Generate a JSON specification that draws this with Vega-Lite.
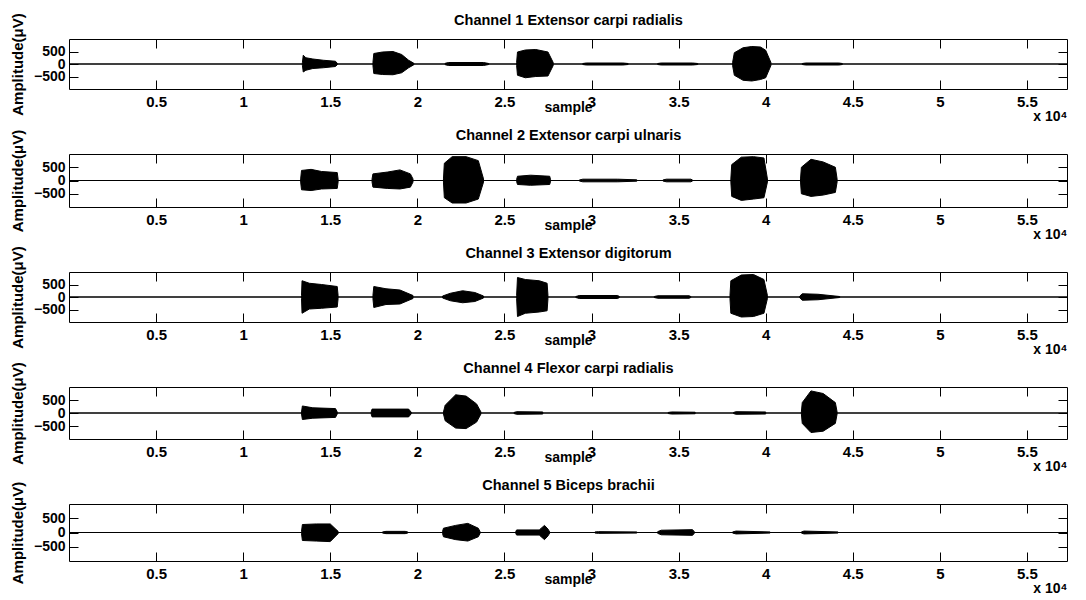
{
  "$schema": "https://vega.github.io/schema/vega-lite/v6.json",
  "background": "white",
  "padding": {"left": 9, "top": 12, "right": 10, "bottom": 5},
  "bounds": "flush",
  "spacing": 65,
  "config": {
    "font": "Liberation Sans",
    "view": {"stroke": "black", "strokeWidth": 1},
    "axis": {"grid": false, "domain": false, "tickColor": "black", "labelColor": "black", "titleColor": "black", "labelFont": "Liberation Sans", "titleFont": "Liberation Sans", "labelOverlap": false}
  },
  "datasets": {
    "env": [
      {"ch": 1, "b": 1, "x": 13400, "lo": -50, "hi": 50}, {"ch": 1, "b": 1, "x": 13450, "lo": -320, "hi": 350}, {"ch": 1, "b": 1, "x": 13600, "lo": -250, "hi": 250}, {"ch": 1, "b": 1, "x": 14000, "lo": -180, "hi": 200}, {"ch": 1, "b": 1, "x": 14600, "lo": -150, "hi": 150}, {"ch": 1, "b": 1, "x": 15300, "lo": -100, "hi": 110}, {"ch": 1, "b": 1, "x": 15400, "lo": -30, "hi": 30},
      {"ch": 1, "b": 2, "x": 17450, "lo": -60, "hi": 60}, {"ch": 1, "b": 2, "x": 17500, "lo": -380, "hi": 420}, {"ch": 1, "b": 2, "x": 18000, "lo": -420, "hi": 480}, {"ch": 1, "b": 2, "x": 18600, "lo": -430, "hi": 500}, {"ch": 1, "b": 2, "x": 19100, "lo": -350, "hi": 380}, {"ch": 1, "b": 2, "x": 19500, "lo": -150, "hi": 150}, {"ch": 1, "b": 2, "x": 19800, "lo": -30, "hi": 30},
      {"ch": 1, "b": 3, "x": 21600, "lo": -30, "hi": 30}, {"ch": 1, "b": 3, "x": 21800, "lo": -60, "hi": 60}, {"ch": 1, "b": 3, "x": 23800, "lo": -60, "hi": 60}, {"ch": 1, "b": 3, "x": 24100, "lo": -20, "hi": 20},
      {"ch": 1, "b": 4, "x": 25700, "lo": -60, "hi": 60}, {"ch": 1, "b": 4, "x": 25750, "lo": -450, "hi": 480}, {"ch": 1, "b": 4, "x": 26200, "lo": -550, "hi": 560}, {"ch": 1, "b": 4, "x": 26800, "lo": -500, "hi": 580}, {"ch": 1, "b": 4, "x": 27500, "lo": -480, "hi": 480}, {"ch": 1, "b": 4, "x": 27800, "lo": -60, "hi": 60},
      {"ch": 1, "b": 5, "x": 29500, "lo": -20, "hi": 20}, {"ch": 1, "b": 5, "x": 29700, "lo": -40, "hi": 40}, {"ch": 1, "b": 5, "x": 31800, "lo": -40, "hi": 40}, {"ch": 1, "b": 5, "x": 32100, "lo": -20, "hi": 20},
      {"ch": 1, "b": 6, "x": 33800, "lo": -20, "hi": 20}, {"ch": 1, "b": 6, "x": 34000, "lo": -40, "hi": 40}, {"ch": 1, "b": 6, "x": 35800, "lo": -40, "hi": 40}, {"ch": 1, "b": 6, "x": 36100, "lo": -20, "hi": 20},
      {"ch": 1, "b": 7, "x": 38100, "lo": -60, "hi": 60}, {"ch": 1, "b": 7, "x": 38200, "lo": -450, "hi": 450}, {"ch": 1, "b": 7, "x": 38700, "lo": -650, "hi": 650}, {"ch": 1, "b": 7, "x": 39200, "lo": -680, "hi": 700}, {"ch": 1, "b": 7, "x": 39700, "lo": -620, "hi": 680}, {"ch": 1, "b": 7, "x": 40000, "lo": -550, "hi": 550}, {"ch": 1, "b": 7, "x": 40300, "lo": -60, "hi": 60},
      {"ch": 1, "b": 8, "x": 42100, "lo": -20, "hi": 20}, {"ch": 1, "b": 8, "x": 42300, "lo": -40, "hi": 40}, {"ch": 1, "b": 8, "x": 44200, "lo": -40, "hi": 40}, {"ch": 1, "b": 8, "x": 44400, "lo": -20, "hi": 20},

      {"ch": 2, "b": 1, "x": 13300, "lo": -60, "hi": 60}, {"ch": 2, "b": 1, "x": 13350, "lo": -350, "hi": 380}, {"ch": 2, "b": 1, "x": 13900, "lo": -380, "hi": 420}, {"ch": 2, "b": 1, "x": 14500, "lo": -320, "hi": 340}, {"ch": 2, "b": 1, "x": 15400, "lo": -300, "hi": 300}, {"ch": 2, "b": 1, "x": 15450, "lo": -60, "hi": 60},
      {"ch": 2, "b": 2, "x": 17400, "lo": -60, "hi": 60}, {"ch": 2, "b": 2, "x": 17450, "lo": -250, "hi": 250}, {"ch": 2, "b": 2, "x": 18300, "lo": -300, "hi": 320}, {"ch": 2, "b": 2, "x": 19000, "lo": -320, "hi": 400}, {"ch": 2, "b": 2, "x": 19600, "lo": -250, "hi": 250}, {"ch": 2, "b": 2, "x": 19750, "lo": -60, "hi": 60},
      {"ch": 2, "b": 3, "x": 21500, "lo": -60, "hi": 60}, {"ch": 2, "b": 3, "x": 21550, "lo": -650, "hi": 650}, {"ch": 2, "b": 3, "x": 22000, "lo": -850, "hi": 900}, {"ch": 2, "b": 3, "x": 22800, "lo": -850, "hi": 900}, {"ch": 2, "b": 3, "x": 23500, "lo": -700, "hi": 750}, {"ch": 2, "b": 3, "x": 23800, "lo": -60, "hi": 60},
      {"ch": 2, "b": 4, "x": 25700, "lo": -40, "hi": 40}, {"ch": 2, "b": 4, "x": 25750, "lo": -150, "hi": 160}, {"ch": 2, "b": 4, "x": 26500, "lo": -180, "hi": 200}, {"ch": 2, "b": 4, "x": 27600, "lo": -150, "hi": 160}, {"ch": 2, "b": 4, "x": 27650, "lo": -30, "hi": 30},
      {"ch": 2, "b": 5, "x": 29300, "lo": -20, "hi": 20}, {"ch": 2, "b": 5, "x": 29500, "lo": -50, "hi": 50}, {"ch": 2, "b": 5, "x": 31500, "lo": -50, "hi": 50}, {"ch": 2, "b": 5, "x": 32600, "lo": -25, "hi": 25},
      {"ch": 2, "b": 6, "x": 34100, "lo": -20, "hi": 20}, {"ch": 2, "b": 6, "x": 34300, "lo": -50, "hi": 50}, {"ch": 2, "b": 6, "x": 35700, "lo": -50, "hi": 50}, {"ch": 2, "b": 6, "x": 35800, "lo": -20, "hi": 20},
      {"ch": 2, "b": 7, "x": 38000, "lo": -60, "hi": 60}, {"ch": 2, "b": 7, "x": 38050, "lo": -600, "hi": 600}, {"ch": 2, "b": 7, "x": 38600, "lo": -750, "hi": 880}, {"ch": 2, "b": 7, "x": 39300, "lo": -700, "hi": 900}, {"ch": 2, "b": 7, "x": 39900, "lo": -650, "hi": 850}, {"ch": 2, "b": 7, "x": 40100, "lo": -60, "hi": 60},
      {"ch": 2, "b": 8, "x": 42000, "lo": -60, "hi": 60}, {"ch": 2, "b": 8, "x": 42050, "lo": -500, "hi": 500}, {"ch": 2, "b": 8, "x": 42600, "lo": -600, "hi": 800}, {"ch": 2, "b": 8, "x": 43300, "lo": -550, "hi": 700}, {"ch": 2, "b": 8, "x": 44000, "lo": -450, "hi": 500}, {"ch": 2, "b": 8, "x": 44100, "lo": -60, "hi": 60},

      {"ch": 3, "b": 1, "x": 13350, "lo": -60, "hi": 60}, {"ch": 3, "b": 1, "x": 13380, "lo": -650, "hi": 650}, {"ch": 3, "b": 1, "x": 13800, "lo": -480, "hi": 550}, {"ch": 3, "b": 1, "x": 14500, "lo": -450, "hi": 500}, {"ch": 3, "b": 1, "x": 15400, "lo": -400, "hi": 420}, {"ch": 3, "b": 1, "x": 15450, "lo": -60, "hi": 60},
      {"ch": 3, "b": 2, "x": 17450, "lo": -60, "hi": 60}, {"ch": 3, "b": 2, "x": 17500, "lo": -420, "hi": 420}, {"ch": 3, "b": 2, "x": 18200, "lo": -300, "hi": 330}, {"ch": 3, "b": 2, "x": 19000, "lo": -280, "hi": 280}, {"ch": 3, "b": 2, "x": 19750, "lo": -60, "hi": 60},
      {"ch": 3, "b": 3, "x": 21450, "lo": -40, "hi": 40}, {"ch": 3, "b": 3, "x": 21900, "lo": -150, "hi": 150}, {"ch": 3, "b": 3, "x": 22600, "lo": -230, "hi": 250}, {"ch": 3, "b": 3, "x": 23300, "lo": -180, "hi": 180}, {"ch": 3, "b": 3, "x": 23800, "lo": -40, "hi": 40},
      {"ch": 3, "b": 4, "x": 25700, "lo": -60, "hi": 60}, {"ch": 3, "b": 4, "x": 25750, "lo": -780, "hi": 780}, {"ch": 3, "b": 4, "x": 26200, "lo": -650, "hi": 700}, {"ch": 3, "b": 4, "x": 27000, "lo": -600, "hi": 650}, {"ch": 3, "b": 4, "x": 27450, "lo": -550, "hi": 550}, {"ch": 3, "b": 4, "x": 27500, "lo": -60, "hi": 60},
      {"ch": 3, "b": 5, "x": 29100, "lo": -20, "hi": 20}, {"ch": 3, "b": 5, "x": 29300, "lo": -60, "hi": 60}, {"ch": 3, "b": 5, "x": 31500, "lo": -60, "hi": 60}, {"ch": 3, "b": 5, "x": 31600, "lo": -20, "hi": 20},
      {"ch": 3, "b": 6, "x": 33600, "lo": -20, "hi": 20}, {"ch": 3, "b": 6, "x": 33800, "lo": -50, "hi": 50}, {"ch": 3, "b": 6, "x": 35600, "lo": -50, "hi": 50}, {"ch": 3, "b": 6, "x": 35700, "lo": -20, "hi": 20},
      {"ch": 3, "b": 7, "x": 37950, "lo": -60, "hi": 60}, {"ch": 3, "b": 7, "x": 38000, "lo": -650, "hi": 650}, {"ch": 3, "b": 7, "x": 38600, "lo": -800, "hi": 880}, {"ch": 3, "b": 7, "x": 39300, "lo": -780, "hi": 900}, {"ch": 3, "b": 7, "x": 39900, "lo": -650, "hi": 700}, {"ch": 3, "b": 7, "x": 40100, "lo": -60, "hi": 60},
      {"ch": 3, "b": 8, "x": 41950, "lo": -30, "hi": 30}, {"ch": 3, "b": 8, "x": 42100, "lo": -130, "hi": 130}, {"ch": 3, "b": 8, "x": 43000, "lo": -110, "hi": 110}, {"ch": 3, "b": 8, "x": 44250, "lo": -20, "hi": 20},

      {"ch": 4, "b": 1, "x": 13350, "lo": -40, "hi": 40}, {"ch": 4, "b": 1, "x": 13400, "lo": -250, "hi": 270}, {"ch": 4, "b": 1, "x": 14000, "lo": -200, "hi": 200}, {"ch": 4, "b": 1, "x": 15300, "lo": -170, "hi": 170}, {"ch": 4, "b": 1, "x": 15400, "lo": -40, "hi": 40},
      {"ch": 4, "b": 2, "x": 17350, "lo": -40, "hi": 40}, {"ch": 4, "b": 2, "x": 17400, "lo": -150, "hi": 150}, {"ch": 4, "b": 2, "x": 19500, "lo": -150, "hi": 150}, {"ch": 4, "b": 2, "x": 19650, "lo": -30, "hi": 30},
      {"ch": 4, "b": 3, "x": 21500, "lo": -40, "hi": 40}, {"ch": 4, "b": 3, "x": 21600, "lo": -300, "hi": 300}, {"ch": 4, "b": 3, "x": 22200, "lo": -580, "hi": 700}, {"ch": 4, "b": 3, "x": 22800, "lo": -600, "hi": 650}, {"ch": 4, "b": 3, "x": 23400, "lo": -350, "hi": 350}, {"ch": 4, "b": 3, "x": 23650, "lo": -40, "hi": 40},
      {"ch": 4, "b": 4, "x": 25550, "lo": -20, "hi": 20}, {"ch": 4, "b": 4, "x": 25700, "lo": -50, "hi": 50}, {"ch": 4, "b": 4, "x": 27200, "lo": -40, "hi": 40},
      {"ch": 4, "b": 5, "x": 34400, "lo": -20, "hi": 20}, {"ch": 4, "b": 5, "x": 34600, "lo": -40, "hi": 40}, {"ch": 4, "b": 5, "x": 35950, "lo": -30, "hi": 30},
      {"ch": 4, "b": 6, "x": 38150, "lo": -20, "hi": 20}, {"ch": 4, "b": 6, "x": 38300, "lo": -50, "hi": 50}, {"ch": 4, "b": 6, "x": 40000, "lo": -40, "hi": 40},
      {"ch": 4, "b": 7, "x": 42050, "lo": -40, "hi": 40}, {"ch": 4, "b": 7, "x": 42100, "lo": -400, "hi": 400}, {"ch": 4, "b": 7, "x": 42600, "lo": -750, "hi": 850}, {"ch": 4, "b": 7, "x": 43300, "lo": -700, "hi": 750}, {"ch": 4, "b": 7, "x": 44000, "lo": -400, "hi": 400}, {"ch": 4, "b": 7, "x": 44100, "lo": -40, "hi": 40},

      {"ch": 5, "b": 1, "x": 13350, "lo": -40, "hi": 40}, {"ch": 5, "b": 1, "x": 13400, "lo": -280, "hi": 280}, {"ch": 5, "b": 1, "x": 14200, "lo": -300, "hi": 300}, {"ch": 5, "b": 1, "x": 15000, "lo": -320, "hi": 300}, {"ch": 5, "b": 1, "x": 15450, "lo": -40, "hi": 40},
      {"ch": 5, "b": 2, "x": 18000, "lo": -20, "hi": 20}, {"ch": 5, "b": 2, "x": 18200, "lo": -40, "hi": 40}, {"ch": 5, "b": 2, "x": 19300, "lo": -40, "hi": 40}, {"ch": 5, "b": 2, "x": 19450, "lo": -20, "hi": 20},
      {"ch": 5, "b": 3, "x": 21450, "lo": -40, "hi": 40}, {"ch": 5, "b": 3, "x": 21500, "lo": -150, "hi": 150}, {"ch": 5, "b": 3, "x": 22200, "lo": -250, "hi": 250}, {"ch": 5, "b": 3, "x": 22900, "lo": -300, "hi": 320}, {"ch": 5, "b": 3, "x": 23500, "lo": -150, "hi": 150}, {"ch": 5, "b": 3, "x": 23600, "lo": -30, "hi": 30},
      {"ch": 5, "b": 4, "x": 25650, "lo": -30, "hi": 30}, {"ch": 5, "b": 4, "x": 25700, "lo": -90, "hi": 90}, {"ch": 5, "b": 4, "x": 27000, "lo": -90, "hi": 90}, {"ch": 5, "b": 4, "x": 27300, "lo": -250, "hi": 250}, {"ch": 5, "b": 4, "x": 27500, "lo": -120, "hi": 120}, {"ch": 5, "b": 4, "x": 27600, "lo": -20, "hi": 20},
      {"ch": 5, "b": 5, "x": 30200, "lo": -20, "hi": 20}, {"ch": 5, "b": 5, "x": 30400, "lo": -30, "hi": 30}, {"ch": 5, "b": 5, "x": 32600, "lo": -20, "hi": 20},
      {"ch": 5, "b": 6, "x": 33800, "lo": -30, "hi": 30}, {"ch": 5, "b": 6, "x": 34000, "lo": -80, "hi": 80}, {"ch": 5, "b": 6, "x": 35800, "lo": -100, "hi": 100}, {"ch": 5, "b": 6, "x": 35900, "lo": -30, "hi": 30},
      {"ch": 5, "b": 7, "x": 38100, "lo": -20, "hi": 20}, {"ch": 5, "b": 7, "x": 38300, "lo": -50, "hi": 50}, {"ch": 5, "b": 7, "x": 40250, "lo": -20, "hi": 20},
      {"ch": 5, "b": 8, "x": 42050, "lo": -20, "hi": 20}, {"ch": 5, "b": 8, "x": 42200, "lo": -50, "hi": 50}, {"ch": 5, "b": 8, "x": 44150, "lo": -20, "hi": 20}
    ],
    "frame": [{"a": 0, "b": 57300}]
  },
  "vconcat": [
    {
      "width": 998, "height": 50,
      "resolve": {"axis": {"x": "independent", "y": "independent"}},
      "layer": [
        {"data": {"name": "env"}, "transform": [{"filter": "datum.ch == 1"}],
         "mark": {"type": "area", "color": "black", "clip": true, "stroke": "black", "strokeWidth": 1},
         "encoding": {
           "detail": {"field": "b", "type": "nominal"},
           "x": {"field": "x", "type": "quantitative", "scale": {"domain": [0, 57300], "nice": false, "zero": false},
                 "axis": {"orient": "bottom", "values": [5000,10000,15000,20000,25000,30000,35000,40000,45000,50000,55000], "labelExpr": "datum.value/10000", "offset": -9, "tickSize": 9, "labelPadding": 5, "labelFontSize": 15, "labelFontWeight": "bold", "labelFlush": false, "title": "sample", "titleFontSize": 14, "titleFontWeight": "bold", "titlePadding": -9}},
           "y": {"field": "lo", "type": "quantitative", "scale": {"domain": [-1000, 1000], "nice": false},
                 "axis": {"orient": "left", "values": [-500, 0, 500], "offset": -9, "tickSize": 9, "labelPadding": 4, "labelFontSize": 14, "labelFontWeight": "bold", "title": "Amplitude(μV)", "titleFontSize": 15, "titleFontWeight": "bold", "titlePadding": 8}},
           "y2": {"field": "hi"}
         }},
        {"data": {"name": "frame"}, "mark": {"type": "rule", "color": "black", "strokeWidth": 1},
         "encoding": {
           "x": {"field": "a", "type": "quantitative", "axis": {"orient": "top", "values": [5000,10000,15000,20000,25000,30000,35000,40000,45000,50000,55000], "offset": -9, "tickSize": 9, "labels": false, "title": "Channel 1 Extensor carpi radialis", "titleFontSize": 14.5, "titleFontWeight": "bold", "titlePadding": 11}},
           "x2": {"field": "b"},
           "y": {"datum": 0, "type": "quantitative", "axis": {"orient": "right", "values": [-500, 0, 500], "offset": -9, "tickSize": 9, "labels": false, "title": null}}
         }},
        {"data": {"name": "frame"}, "mark": {"type": "rule", "color": "black", "strokeWidth": 1},
         "encoding": {
           "x": {"field": "a", "type": "quantitative", "axis": {"orient": "bottom", "ticks": false, "labels": false, "title": "x 10⁴", "titleAnchor": "end", "titleFontSize": 14, "titleFontWeight": "bold", "titlePadding": 20}},
           "x2": {"field": "b"},
           "y": {"datum": 0, "type": "quantitative", "axis": null}
         }}
      ]
    },
    {
      "width": 998, "height": 53,
      "resolve": {"axis": {"x": "independent", "y": "independent"}},
      "layer": [
        {"data": {"name": "env"}, "transform": [{"filter": "datum.ch == 2"}],
         "mark": {"type": "area", "color": "black", "clip": true, "stroke": "black", "strokeWidth": 1},
         "encoding": {
           "detail": {"field": "b", "type": "nominal"},
           "x": {"field": "x", "type": "quantitative", "scale": {"domain": [0, 57300], "nice": false, "zero": false},
                 "axis": {"orient": "bottom", "values": [5000,10000,15000,20000,25000,30000,35000,40000,45000,50000,55000], "labelExpr": "datum.value/10000", "offset": -9, "tickSize": 9, "labelPadding": 5, "labelFontSize": 15, "labelFontWeight": "bold", "labelFlush": false, "title": "sample", "titleFontSize": 14, "titleFontWeight": "bold", "titlePadding": -9}},
           "y": {"field": "lo", "type": "quantitative", "scale": {"domain": [-1000, 1000], "nice": false},
                 "axis": {"orient": "left", "values": [-500, 0, 500], "offset": -9, "tickSize": 9, "labelPadding": 4, "labelFontSize": 14, "labelFontWeight": "bold", "title": "Amplitude(μV)", "titleFontSize": 15, "titleFontWeight": "bold", "titlePadding": 8}},
           "y2": {"field": "hi"}
         }},
        {"data": {"name": "frame"}, "mark": {"type": "rule", "color": "black", "strokeWidth": 1},
         "encoding": {
           "x": {"field": "a", "type": "quantitative", "axis": {"orient": "top", "values": [5000,10000,15000,20000,25000,30000,35000,40000,45000,50000,55000], "offset": -9, "tickSize": 9, "labels": false, "title": "Channel 2 Extensor carpi ulnaris", "titleFontSize": 14.5, "titleFontWeight": "bold", "titlePadding": 11}},
           "x2": {"field": "b"},
           "y": {"datum": 0, "type": "quantitative", "axis": {"orient": "right", "values": [-500, 0, 500], "offset": -9, "tickSize": 9, "labels": false, "title": null}}
         }},
        {"data": {"name": "frame"}, "mark": {"type": "rule", "color": "black", "strokeWidth": 1},
         "encoding": {
           "x": {"field": "a", "type": "quantitative", "axis": {"orient": "bottom", "ticks": false, "labels": false, "title": "x 10⁴", "titleAnchor": "end", "titleFontSize": 14, "titleFontWeight": "bold", "titlePadding": 20}},
           "x2": {"field": "b"},
           "y": {"datum": 0, "type": "quantitative", "axis": null}
         }}
      ]
    },
    {
      "width": 998, "height": 50,
      "resolve": {"axis": {"x": "independent", "y": "independent"}},
      "layer": [
        {"data": {"name": "env"}, "transform": [{"filter": "datum.ch == 3"}],
         "mark": {"type": "area", "color": "black", "clip": true, "stroke": "black", "strokeWidth": 1},
         "encoding": {
           "detail": {"field": "b", "type": "nominal"},
           "x": {"field": "x", "type": "quantitative", "scale": {"domain": [0, 57300], "nice": false, "zero": false},
                 "axis": {"orient": "bottom", "values": [5000,10000,15000,20000,25000,30000,35000,40000,45000,50000,55000], "labelExpr": "datum.value/10000", "offset": -9, "tickSize": 9, "labelPadding": 5, "labelFontSize": 15, "labelFontWeight": "bold", "labelFlush": false, "title": "sample", "titleFontSize": 14, "titleFontWeight": "bold", "titlePadding": -9}},
           "y": {"field": "lo", "type": "quantitative", "scale": {"domain": [-1000, 1000], "nice": false},
                 "axis": {"orient": "left", "values": [-500, 0, 500], "offset": -9, "tickSize": 9, "labelPadding": 4, "labelFontSize": 14, "labelFontWeight": "bold", "title": "Amplitude(μV)", "titleFontSize": 15, "titleFontWeight": "bold", "titlePadding": 8}},
           "y2": {"field": "hi"}
         }},
        {"data": {"name": "frame"}, "mark": {"type": "rule", "color": "black", "strokeWidth": 1},
         "encoding": {
           "x": {"field": "a", "type": "quantitative", "axis": {"orient": "top", "values": [5000,10000,15000,20000,25000,30000,35000,40000,45000,50000,55000], "offset": -9, "tickSize": 9, "labels": false, "title": "Channel 3 Extensor digitorum", "titleFontSize": 14.5, "titleFontWeight": "bold", "titlePadding": 11}},
           "x2": {"field": "b"},
           "y": {"datum": 0, "type": "quantitative", "axis": {"orient": "right", "values": [-500, 0, 500], "offset": -9, "tickSize": 9, "labels": false, "title": null}}
         }},
        {"data": {"name": "frame"}, "mark": {"type": "rule", "color": "black", "strokeWidth": 1},
         "encoding": {
           "x": {"field": "a", "type": "quantitative", "axis": {"orient": "bottom", "ticks": false, "labels": false, "title": "x 10⁴", "titleAnchor": "end", "titleFontSize": 14, "titleFontWeight": "bold", "titlePadding": 20}},
           "x2": {"field": "b"},
           "y": {"datum": 0, "type": "quantitative", "axis": null}
         }}
      ]
    },
    {
      "width": 998, "height": 52,
      "resolve": {"axis": {"x": "independent", "y": "independent"}},
      "layer": [
        {"data": {"name": "env"}, "transform": [{"filter": "datum.ch == 4"}],
         "mark": {"type": "area", "color": "black", "clip": true, "stroke": "black", "strokeWidth": 1},
         "encoding": {
           "detail": {"field": "b", "type": "nominal"},
           "x": {"field": "x", "type": "quantitative", "scale": {"domain": [0, 57300], "nice": false, "zero": false},
                 "axis": {"orient": "bottom", "values": [5000,10000,15000,20000,25000,30000,35000,40000,45000,50000,55000], "labelExpr": "datum.value/10000", "offset": -9, "tickSize": 9, "labelPadding": 5, "labelFontSize": 15, "labelFontWeight": "bold", "labelFlush": false, "title": "sample", "titleFontSize": 14, "titleFontWeight": "bold", "titlePadding": -9}},
           "y": {"field": "lo", "type": "quantitative", "scale": {"domain": [-1000, 1000], "nice": false},
                 "axis": {"orient": "left", "values": [-500, 0, 500], "offset": -9, "tickSize": 9, "labelPadding": 4, "labelFontSize": 14, "labelFontWeight": "bold", "title": "Amplitude(μV)", "titleFontSize": 15, "titleFontWeight": "bold", "titlePadding": 8}},
           "y2": {"field": "hi"}
         }},
        {"data": {"name": "frame"}, "mark": {"type": "rule", "color": "black", "strokeWidth": 1},
         "encoding": {
           "x": {"field": "a", "type": "quantitative", "axis": {"orient": "top", "values": [5000,10000,15000,20000,25000,30000,35000,40000,45000,50000,55000], "offset": -9, "tickSize": 9, "labels": false, "title": "Channel 4 Flexor carpi radialis", "titleFontSize": 14.5, "titleFontWeight": "bold", "titlePadding": 11}},
           "x2": {"field": "b"},
           "y": {"datum": 0, "type": "quantitative", "axis": {"orient": "right", "values": [-500, 0, 500], "offset": -9, "tickSize": 9, "labels": false, "title": null}}
         }},
        {"data": {"name": "frame"}, "mark": {"type": "rule", "color": "black", "strokeWidth": 1},
         "encoding": {
           "x": {"field": "a", "type": "quantitative", "axis": {"orient": "bottom", "ticks": false, "labels": false, "title": "x 10⁴", "titleAnchor": "end", "titleFontSize": 14, "titleFontWeight": "bold", "titlePadding": 20}},
           "x2": {"field": "b"},
           "y": {"datum": 0, "type": "quantitative", "axis": null}
         }}
      ]
    },
    {
      "width": 998, "height": 57,
      "resolve": {"axis": {"x": "independent", "y": "independent"}},
      "layer": [
        {"data": {"name": "env"}, "transform": [{"filter": "datum.ch == 5"}],
         "mark": {"type": "area", "color": "black", "clip": true, "stroke": "black", "strokeWidth": 1},
         "encoding": {
           "detail": {"field": "b", "type": "nominal"},
           "x": {"field": "x", "type": "quantitative", "scale": {"domain": [0, 57300], "nice": false, "zero": false},
                 "axis": {"orient": "bottom", "values": [5000,10000,15000,20000,25000,30000,35000,40000,45000,50000,55000], "labelExpr": "datum.value/10000", "offset": -9, "tickSize": 9, "labelPadding": 5, "labelFontSize": 15, "labelFontWeight": "bold", "labelFlush": false, "title": "sample", "titleFontSize": 14, "titleFontWeight": "bold", "titlePadding": -9}},
           "y": {"field": "lo", "type": "quantitative", "scale": {"domain": [-1000, 1000], "nice": false},
                 "axis": {"orient": "left", "values": [-500, 0, 500], "offset": -9, "tickSize": 9, "labelPadding": 4, "labelFontSize": 14, "labelFontWeight": "bold", "title": "Amplitude(μV)", "titleFontSize": 15, "titleFontWeight": "bold", "titlePadding": 8}},
           "y2": {"field": "hi"}
         }},
        {"data": {"name": "frame"}, "mark": {"type": "rule", "color": "black", "strokeWidth": 1},
         "encoding": {
           "x": {"field": "a", "type": "quantitative", "axis": {"orient": "top", "values": [5000,10000,15000,20000,25000,30000,35000,40000,45000,50000,55000], "offset": -9, "tickSize": 9, "labels": false, "title": "Channel 5 Biceps brachii", "titleFontSize": 14.5, "titleFontWeight": "bold", "titlePadding": 11}},
           "x2": {"field": "b"},
           "y": {"datum": 0, "type": "quantitative", "axis": {"orient": "right", "values": [-500, 0, 500], "offset": -9, "tickSize": 9, "labels": false, "title": null}}
         }},
        {"data": {"name": "frame"}, "mark": {"type": "rule", "color": "black", "strokeWidth": 1},
         "encoding": {
           "x": {"field": "a", "type": "quantitative", "axis": {"orient": "bottom", "ticks": false, "labels": false, "title": "x 10⁴", "titleAnchor": "end", "titleFontSize": 14, "titleFontWeight": "bold", "titlePadding": 20}},
           "x2": {"field": "b"},
           "y": {"datum": 0, "type": "quantitative", "axis": null}
         }}
      ]
    }
  ]
}
